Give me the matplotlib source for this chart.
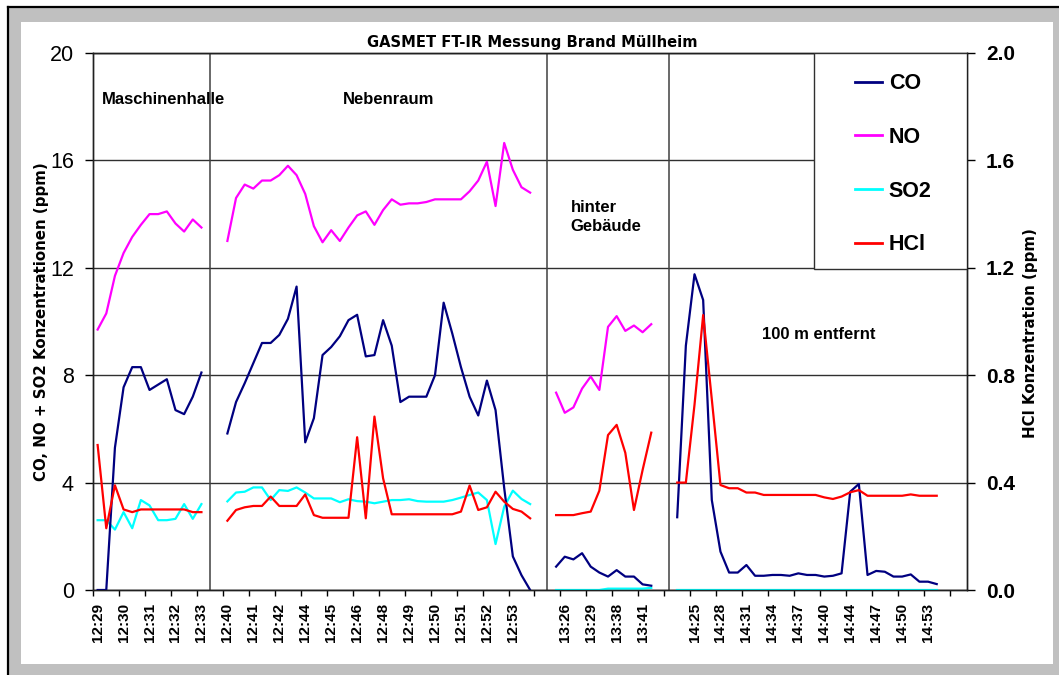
import matplotlib
matplotlib.use('Agg')
import matplotlib.pyplot as plt
from matplotlib.patches import Rectangle
from matplotlib.lines import Line2D
import numpy as np

plt.rcParams['font.family'] = ['Liberation Sans', 'DejaVu Sans']

# x axis: one category per reading, a time label on every 3rd category
tick_labels = ['12:29', '12:30', '12:31', '12:32', '12:33',
               '12:40', '12:41', '12:42', '12:44', '12:45', '12:46', '12:48',
               '12:49', '12:50', '12:51', '12:52', '12:53', '',
               '13:26', '13:29', '13:38', '13:41', '',
               '14:25', '14:28', '14:31', '14:34', '14:37', '14:40', '14:44',
               '14:47', '14:50', '14:53', '']
n_categories = 101
seg_start = [0, 15, 53, 67]     # first category of each measuring place
dividers = [13, 52, 66]         # empty categories between the places

# CO (ppm)
co_1 = [0, 0, 5.3, 7.55, 8.3, 8.3, 7.45, 7.65, 7.85, 6.7, 6.55, 7.2, 8.1]
co_2 = [5.83, 7.0, 7.7, 8.45, 9.2, 9.2, 9.5, 10.1, 11.3, 5.5,
        6.4, 8.75, 9.05, 9.45, 10.05, 10.25, 8.7, 8.75, 10.05, 9.1,
        7.0, 7.2, 7.2, 7.2, 8.0, 10.7, 9.55, 8.3, 7.2, 6.5,
        7.8, 6.7, 3.8, 1.25, 0.55, 0.0]
co_3 = [0.87, 1.24, 1.14, 1.37, 0.87, 0.65, 0.5, 0.74, 0.5, 0.5, 0.21, 0.16]
co_4 = [2.71, 9.1, 11.76, 10.8, 3.35, 1.43, 0.65, 0.65, 0.93, 0.53,
        0.53, 0.56, 0.56, 0.53, 0.62, 0.56, 0.56, 0.5, 0.53, 0.62,
        3.66, 3.95, 0.56, 0.71, 0.68, 0.5, 0.5, 0.58, 0.31, 0.31,
        0.22]

# NO (ppm), not measured at the last place
no_1 = [9.7, 10.3, 11.7, 12.55, 13.15, 13.6, 14.0, 14.0, 14.1, 13.65, 13.35, 13.8, 13.5]
no_2 = [13.0, 14.6, 15.1, 14.95, 15.25, 15.25, 15.45, 15.8, 15.45, 14.75,
        13.55, 12.95, 13.4, 13.0, 13.5, 13.95, 14.1, 13.6, 14.15, 14.55,
        14.35, 14.4, 14.4, 14.45, 14.55, 14.55, 14.55, 14.55, 14.85, 15.25,
        15.95, 14.3, 16.65, 15.65, 15.0, 14.8]
no_3 = [7.35, 6.6, 6.8, 7.5, 7.95, 7.45, 9.8, 10.2, 9.65, 9.85, 9.6, 9.9]

# SO2 (ppm)
so2_1 = [2.6, 2.6, 2.25, 2.9, 2.3, 3.35, 3.15, 2.6, 2.6, 2.65, 3.2, 2.65, 3.2]
so2_2 = [3.3, 3.63, 3.66, 3.82, 3.82, 3.35, 3.72, 3.69, 3.82, 3.63,
         3.41, 3.41, 3.41, 3.27, 3.38, 3.31, 3.29, 3.23, 3.29, 3.35,
         3.35, 3.38, 3.31, 3.29, 3.29, 3.29, 3.35, 3.44, 3.54, 3.63,
         3.35, 1.71, 3.1, 3.7, 3.39, 3.2]
so2_3 = [0.0, 0.0, 0.0, 0.0, 0.0, 0.0, 0.05, 0.05, 0.05, 0.05, 0.05, 0.08]
so2_4 = [0.0, 0.0, 0.0, 0.0, 0.0, 0.0, 0.0, 0.0, 0.0, 0.0,
         0.0, 0.0, 0.0, 0.0, 0.0, 0.0, 0.0, 0.0, 0.0, 0.0,
         0.0, 0.0, 0.0, 0.0, 0.0, 0.0, 0.0, 0.0, 0.0, 0.0,
         0.0]

# HCl (ppm, right axis)
hcl_1 = [0.54, 0.23, 0.39, 0.30, 0.29, 0.30, 0.30, 0.30, 0.30, 0.30, 0.30, 0.29, 0.29]
hcl_2 = [0.258, 0.298, 0.308, 0.313, 0.313, 0.348, 0.313, 0.313, 0.313, 0.356,
         0.279, 0.269, 0.269, 0.269, 0.269, 0.569, 0.267, 0.646, 0.416, 0.282,
         0.282, 0.282, 0.282, 0.282, 0.282, 0.282, 0.282, 0.292, 0.389, 0.298,
         0.308, 0.366, 0.329, 0.302, 0.292, 0.267]
hcl_3 = [0.279, 0.279, 0.279, 0.286, 0.292, 0.370, 0.577, 0.615, 0.511, 0.298, 0.447, 0.586]
hcl_4 = [0.40, 0.40, 0.69, 1.024, 0.71, 0.391, 0.379, 0.379, 0.363, 0.363,
         0.354, 0.354, 0.354, 0.354, 0.354, 0.354, 0.354, 0.345, 0.339, 0.348,
         0.364, 0.372, 0.351, 0.351, 0.351, 0.351, 0.351, 0.356, 0.351, 0.351,
         0.351]

co = [co_1, co_2, co_3, co_4]
no = [no_1, no_2, no_3]
so2 = [so2_1, so2_2, so2_3, so2_4]
hcl = [hcl_1, hcl_2, hcl_3, hcl_4]

W, H = 1059, 675
fig = plt.figure(figsize=(W / 100, H / 100), dpi=100)
fig.patch.set_facecolor('white')

# window-like frame around the chart
fig.add_artist(Rectangle((8 / W, 0), 1 - 8 / W, 1 - 7 / H, transform=fig.transFigure,
                         facecolor='#c0c0c0', edgecolor='none', zorder=-3))
fig.add_artist(Rectangle((21 / W, 11 / H), 1032 / W, 642 / H, transform=fig.transFigure,
                         facecolor='white', edgecolor='none', zorder=-2))
fig.add_artist(Line2D([8 / W, 1], [1 - 7 / H, 1 - 7 / H], transform=fig.transFigure,
                      color='black', lw=1.6, zorder=-1))
fig.add_artist(Line2D([8 / W, 8 / W], [0, 1 - 7 / H], transform=fig.transFigure,
                      color='black', lw=1.6, zorder=-1))

ax = fig.add_axes([93.3 / W, 1 - 590 / H, (967 - 93.3) / W, 537 / H])
ax2 = ax.twinx()

lw = 1.6
for start, vals in zip(seg_start, so2):
    ax.plot(np.arange(start, start + len(vals)), vals, color='#00ffff', lw=lw, zorder=3)
for start, vals in zip(seg_start, no):
    ax.plot(np.arange(start, start + len(vals)), vals, color='#ff00ff', lw=lw, zorder=3)
for start, vals in zip(seg_start, co):
    ax.plot(np.arange(start, start + len(vals)), vals, color='#000080', lw=lw, zorder=4)
for start, vals in zip(seg_start, hcl):
    ax2.plot(np.arange(start, start + len(vals)), vals, color='#ff0000', lw=lw, zorder=3)

for d in dividers:
    ax.axvline(d, color='#404040', lw=1.1, zorder=2)

ax.set_xlim(-0.5, n_categories - 0.5)
ax.set_ylim(0, 20)
ax2.set_ylim(0, 2)
ax.set_yticks(np.arange(0, 21, 4))
ax2.set_yticks(np.arange(0, 2.01, 0.4))
ax2.set_yticklabels(['%.1f' % v for v in np.arange(0, 2.01, 0.4)],
                    fontsize=15, fontweight='bold')
ax.tick_params(axis='y', labelsize=15.5, length=5.5, width=1, pad=8.5)
ax2.tick_params(axis='y', length=5.5, width=1, pad=8)
ax.yaxis.grid(True, color='#303030', lw=1)
ax.set_axisbelow(True)

label_pos = np.arange(0, n_categories - 1, 3)
ax.set_xticks(label_pos - 0.5)
ax.set_xticklabels([])
ax.set_xticks(label_pos, minor=True)
ax.set_xticklabels(tick_labels, minor=True, rotation=90, fontsize=11, fontweight='bold')
ax.tick_params(axis='x', which='major', length=4, width=1)
ax.tick_params(axis='x', which='minor', length=0, pad=9.5)

for a in (ax, ax2):
    for s in a.spines.values():
        s.set_color('#202020')
        s.set_linewidth(1)

ann = dict(fontsize=12, fontweight='bold', va='center', ha='left')
ax.text(0.47, 18.25, 'Maschinenhalle', **ann)
ax.text(28.35, 18.25, 'Nebenraum', **ann)
ax.text(54.7, 13.9, 'hinter\nGebäude', linespacing=1.3, **ann)
ax.text(76.8, 9.52, '100 m entfernt', **ann)

# legend box
ax2.add_patch(Rectangle((0.825, 0.597), 0.175, 0.403, transform=ax2.transAxes,
                        facecolor='white', edgecolor='#303030', lw=1, zorder=5))
handles = [Line2D([], [], color=c, lw=2) for c in ['#000080', '#ff00ff', '#00ffff', '#ff0000']]
leg = ax2.legend(handles, ['CO', 'NO', 'SO2', 'HCl'], loc='center left',
                 bbox_to_anchor=(0.860, 0.793), frameon=False, borderpad=0,
                 handlelength=1.25, handletextpad=0.3, labelspacing=1.52,
                 prop={'size': 15.5, 'weight': 'bold'})
leg.set_zorder(6)

fig.text(532 / W, 1 - 43 / H, 'GASMET FT-IR Messung Brand Müllheim',
         ha='center', va='center', fontsize=10.6, fontweight='bold', family='DejaVu Sans')
fig.text(42 / W, 1 - 322 / H, 'CO, NO + SO2 Konzentrationen (ppm)', rotation=90,
         ha='center', va='center', fontsize=10.8, fontweight='bold', family='DejaVu Sans')
fig.text(1031 / W, 1 - 333 / H, 'HCl Konzentration (ppm)', rotation=90,
         ha='center', va='center', fontsize=10.8, fontweight='bold', family='DejaVu Sans')

fig.savefig('out.png', dpi=100)
